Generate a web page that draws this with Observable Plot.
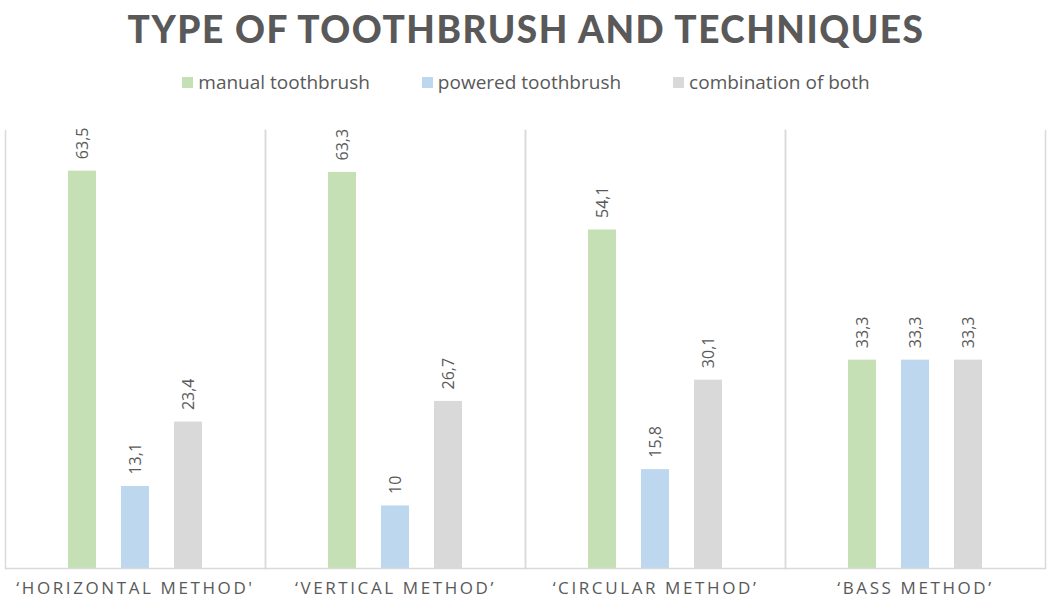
<!DOCTYPE html>
<html>
<head>
<meta charset="utf-8">
<script src="https://cdn.jsdelivr.net/npm/d3@7"></script>
<script src="https://cdn.jsdelivr.net/npm/@observablehq/plot@0.6"></script>
<style>
  html, body { margin: 0; padding: 0; background: #fff; }
  body { width: 1052px; height: 609px; overflow: hidden; font-family: "Open Sans", sans-serif; color: #595959; }
  #title { height: 58px; line-height: 58px; text-align: center; font-family: Lato, "Open Sans", sans-serif; font-weight: 900; font-size: 37px; letter-spacing: 1.5px; color: #595959; }
  #legend { height: 46px; padding-top: 1px; display: flex; justify-content: center; align-items: center; gap: 52px; font-size: 19px; color: #595959; }
  #legend .item { display: flex; align-items: center; gap: 5px; }
  #legend .sw { width: 11px; height: 11px; display: inline-block; }
  #chart svg [aria-label="fx-axis tick label"] text { letter-spacing: 2.6px; }
</style>
</head>
<body>
<div id="title">TYPE OF TOOTHBRUSH AND TECHNIQUES</div>
<div id="legend"></div>
<div id="chart"></div>
<script>
const methods = ["‘HORIZONTAL METHOD'", "‘VERTICAL METHOD’", "‘CIRCULAR METHOD’", "‘BASS METHOD’"];
const series = ["manual toothbrush", "powered toothbrush", "combination of both"];
const manual = [63.5, 63.3, 54.1, 33.3];
const powered = [13.1, 10, 15.8, 33.3];
const combination = [23.4, 26.7, 30.1, 33.3];
const colors = ["#c5e0b4", "#bdd7ee", "#d9d9d9"];

const seriesValues = [manual, powered, combination];
const rows = [];
methods.forEach((m, i) => {
  series.forEach((s, j) => rows.push({method: m, series: s, value: seriesValues[j][i]}));
});

const legend = document.getElementById("legend");
series.forEach((s, j) => {
  const it = document.createElement("div");
  it.className = "item";
  it.innerHTML = `<span class="sw" style="background:${colors[j]}"></span><span>${s}</span>`;
  legend.appendChild(it);
});

const fmt = v => String(v).replace(".", ",");

const chart = Plot.plot({
  width: 1052,
  height: 504,
  marginLeft: 5,
  marginRight: 7,
  marginTop: 25,
  marginBottom: 41,
  style: {fontFamily: "'Open Sans', sans-serif", color: "#595959", background: "#fff"},
  fx: {domain: methods, padding: 0, label: null},
  x: {domain: series, paddingInner: 0.477, paddingOuter: 1.17, axis: null},
  y: {domain: [0, 70], axis: null},
  color: {domain: series, range: colors},
  marks: [
    Plot.frame({anchor: "left", stroke: "#d9d9d9", strokeWidth: 1.5}),
    Plot.frame({anchor: "right", stroke: "#d9d9d9", strokeWidth: 1.5}),
    Plot.barY(rows, {fx: "method", x: "series", y: "value", fill: "series"}),
    Plot.ruleY([0], {stroke: "#d9d9d9", strokeWidth: 1.5}),
    Plot.text(rows, {fx: "method", x: "series", y: "value", text: d => fmt(d.value),
      rotate: -90, textAnchor: "start", dy: -12, fontSize: 16, fill: "#595959"}),
    Plot.axisFx({anchor: "bottom", tickSize: 0, tickPadding: 13, fontSize: 17, label: null, fill: "#595959"})
  ]
});
document.getElementById("chart").appendChild(chart);
</script>
</body>
</html>
